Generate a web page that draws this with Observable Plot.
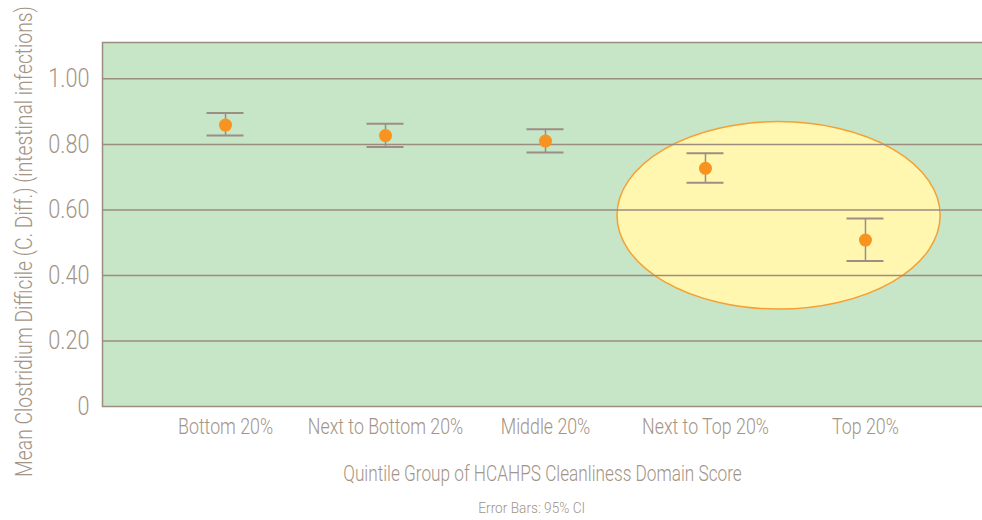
<!DOCTYPE html>
<html>
<head>
<meta charset="utf-8">
<script src="https://cdn.jsdelivr.net/npm/d3@7"></script>
<script src="https://cdn.jsdelivr.net/npm/@observablehq/plot@0.6"></script>
<style>
  html, body { margin: 0; padding: 0; background: #ffffff; overflow: hidden; }
  #wrap { position: relative; width: 982px; height: 520px; }
  #caption { position: absolute; top: 499px; left: 432px; width: 200px; text-align: center;
    font-family: Roboto, "Liberation Sans", sans-serif; font-weight: 300; font-size: 15px;
    line-height: 18px; color: #a39486; }
  #caption span { display: inline-block; transform: scaleX(0.91); transform-origin: 50% 50%; }
</style>
</head>
<body>
<div id="wrap"><div id="chart"></div><div id="caption"><span>Error Bars: 95% CI</span></div></div>
<script>
const categories = ["Bottom 20%", "Next to Bottom 20%", "Middle 20%", "Next to Top 20%", "Top 20%"];
const means = [0.859, 0.827, 0.810, 0.727, 0.508];
const lower = [0.827, 0.792, 0.775, 0.683, 0.444];
const upper = [0.896, 0.863, 0.846, 0.773, 0.574];
const yTicks = [0, 0.2, 0.4, 0.6, 0.8, 1.0];
const yTickLabels = ["0", "0.20", "0.40", "0.60", "0.80", "1.00"];
const highlighted = ["Next to Top 20%", "Top 20%"];
const highlightMean = 0.582;
const highlightHalfRange = 0.286;

const xLabel = "Quintile Group of HCAHPS Cleanliness Domain Score";
const yLabel = "Mean Clostridium Difficile (C. Diff.) (intestinal infections)";

const rows = categories.map((c, i) => ({c, mean: means[i], lo: lower[i], hi: upper[i]}));

const FONT = 'Roboto, "Liberation Sans", sans-serif';
const TEXT = "#a39486";
const LINE = "#9d8c80";
const BAR = "#9a8e86";
const GREEN = "#c7e5c7";
const ORANGE = "#f7931e";

function highlightEllipse(index, scales) {
  const x = scales.x, y = scales.y;
  const bw = typeof x.bandwidth === "function" ? x.bandwidth() : 0;
  const xa = x(highlighted[0]) + bw / 2;
  const xb = x(highlighted[1]) + bw / 2;
  const step = xb - xa;
  const cx = (xa + xb) / 2 - 0.04 * step;
  const cy = y(highlightMean);
  const ry = Math.abs(y(highlightMean - highlightHalfRange) - cy);
  const rx = 1.01 * step;
  const g = d3.create("svg:g");
  g.append("ellipse")
    .attr("cx", cx).attr("cy", cy).attr("rx", rx).attr("ry", ry)
    .attr("fill", "#fff7b0").attr("stroke", "#f4a033").attr("stroke-width", 1.5);
  return g.node();
}

const chart = Plot.plot({
  width: 982,
  height: 490,
  marginLeft: 102,
  marginRight: 0,
  marginTop: 42,
  marginBottom: 84,
  insetLeft: 6,
  style: {fontFamily: FONT, fontWeight: 300, color: TEXT, background: "#ffffff"},
  x: {type: "band", domain: categories, paddingInner: 0.769, paddingOuter: 0.616, align: 0.5, round: false},
  y: {domain: [0, 1.111]},
  marks: [
    Plot.frame({fill: GREEN, stroke: LINE, strokeWidth: 1.5, insetRight: -4}),
    highlightEllipse,
    Plot.ruleY(yTicks.slice(1), {stroke: LINE, strokeWidth: 1.5}),
    Plot.ruleX(rows, {x: "c", y1: "lo", y2: "hi", stroke: BAR, strokeWidth: 1.5}),
    Plot.tickY(rows, {x: "c", y: "lo", stroke: BAR, strokeWidth: 2}),
    Plot.tickY(rows, {x: "c", y: "hi", stroke: BAR, strokeWidth: 2}),
    Plot.dot(rows, {x: "c", y: "mean", r: 6.5, fill: ORANGE}),
    Plot.axisY({ticks: yTicks, tickFormat: d => yTickLabels[yTicks.indexOf(d)], tickSize: 0, tickPadding: 13,
      fontSize: 25.5, label: null, fill: TEXT}),
    Plot.axisX({tickSize: 0, tickPadding: 12, fontSize: 22.5, label: xLabel, labelAnchor: "center",
      labelOffset: 74, fill: TEXT}),
    Plot.text([yLabel], {frameAnchor: "left", rotate: -90, textAnchor: "middle", dx: -78, dy: 17,
      fontSize: 23, fill: TEXT})
  ]
});
document.getElementById("chart").appendChild(chart);

// condensed look: compress each text horizontally around its anchor
d3.select(chart).selectAll("text").each(function () {
  const s = this.textContent;
  if (s === yLabel) {
    const t = this.getAttribute("transform") || "";
    this.setAttribute("transform", t + " scale(0.84,1)");
    return;
  }
  const len = this.getComputedTextLength();
  if (!(len > 0)) return;
  let f = 0.79;
  if (s === xLabel) f = 0.765;
  else if (yTickLabels.includes(s)) f = 0.85;
  this.setAttribute("textLength", len * f);
  this.setAttribute("lengthAdjust", "spacingAndGlyphs");
});
</script>
</body>
</html>
